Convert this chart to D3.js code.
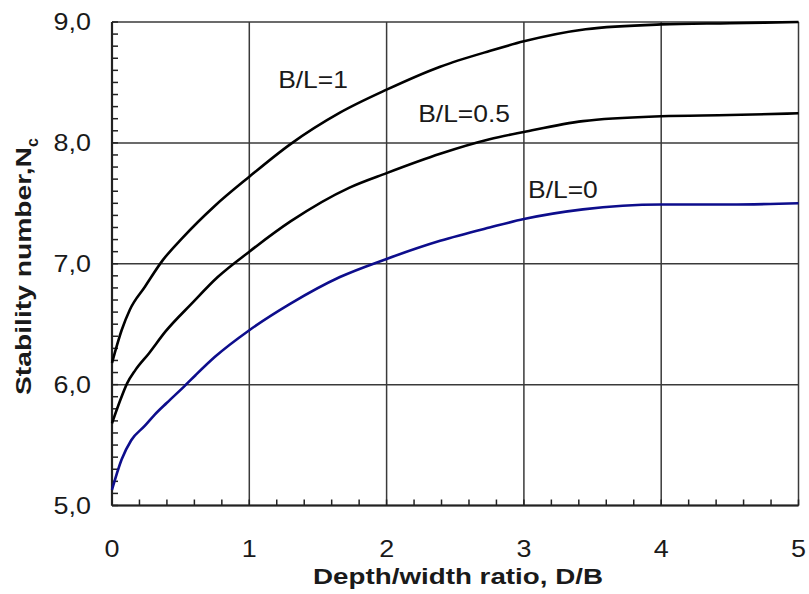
<!DOCTYPE html>
<html>
<head>
<meta charset="utf-8">
<script src="https://cdn.jsdelivr.net/npm/d3@7"></script>
<style>
  html, body { margin: 0; padding: 0; background: #fff; }
  svg { display: block; font-family: "Liberation Sans", Arial, sans-serif; }
</style>
</head>
<body>
<svg id="chart" width="809" height="594"></svg>
<script>
// ---- data ----
const xTickValues = [0, 1, 2, 3, 4, 5];
const yTickValues = [5, 6, 7, 8, 9];
const yTickLabels = ["5,0", "6,0", "7,0", "8,0", "9,0"];

const s1Name = "B/L=1";
const s1X = [0, 0.07, 0.13, 0.24, 0.37, 0.51, 0.75, 1.0, 1.3, 1.66, 2.0, 2.39, 2.75, 3.0, 3.45, 4.0, 4.5, 5.0];
const s1Y = [6.18, 6.45, 6.62, 6.81, 7.03, 7.21, 7.48, 7.72, 7.99, 8.25, 8.44, 8.63, 8.76, 8.84, 8.94, 8.98, 8.99, 9.0];

const s2Name = "B/L=0.5";
const s2X = [0, 0.06, 0.11, 0.17, 0.27, 0.39, 0.58, 0.77, 1.0, 1.3, 1.73, 2.0, 2.39, 2.75, 3.0, 3.43, 4.0, 4.5, 5.0];
const s2Y = [5.68, 5.87, 6.01, 6.12, 6.26, 6.44, 6.67, 6.89, 7.10, 7.35, 7.63, 7.75, 7.91, 8.03, 8.09, 8.18, 8.22, 8.23, 8.245];

const s3Name = "B/L=0";
const s3X = [0, 0.07, 0.14, 0.24, 0.31, 0.40, 0.53, 0.61, 0.75, 1.0, 1.3, 1.66, 2.0, 2.39, 2.75, 3.0, 3.43, 4.0, 4.5, 5.0];
const s3Y = [5.13, 5.38, 5.54, 5.66, 5.75, 5.85, 5.99, 6.08, 6.23, 6.45, 6.67, 6.89, 7.04, 7.19, 7.30, 7.37, 7.45, 7.49, 7.49, 7.50];

const xTitle = "Depth/width ratio, D/B";
const yTitleMain = "Stability number,N";
const yTitleSub = "c";

// ---- layout ----
const svg = d3.select("#chart");
const margin = { left: 112, top: 22, right: 10.5, bottom: 88.5 };
const W = 809, H = 594;
const x = d3.scaleLinear().domain([0, 5]).range([margin.left, W - margin.right]);
const y = d3.scaleLinear().domain([5, 9]).range([H - margin.bottom, margin.top]);

const series = [
  { name: s1Name, xs: s1X, ys: s1Y, color: "#000000", lx: 1.21, ly: 8.45 },
  { name: s2Name, xs: s2X, ys: s2Y, color: "#000000", lx: 2.23, ly: 8.17 },
  { name: s3Name, xs: s3X, ys: s3Y, color: "#0d0d8c", lx: 3.03, ly: 7.54 }
];

const TXT = "#1a1a1a";

// gridlines
const grid = svg.append("g");
grid.selectAll("line.gx").data(xTickValues).join("line")
  .attr("x1", d => x(d)).attr("x2", d => x(d))
  .attr("y1", y(5)).attr("y2", y(9))
  .attr("stroke", "#3a3a3a").attr("stroke-width", 1.5);
grid.selectAll("line.gy").data(yTickValues).join("line")
  .attr("x1", x(0)).attr("x2", x(5))
  .attr("y1", d => y(d)).attr("y2", d => y(d))
  .attr("stroke", "#3a3a3a").attr("stroke-width", 1.5);

// minor ticks (inside)
const xMinor = d3.range(0, 5.0001, 0.2);
const yMinor = d3.range(5, 9.0001, 0.1);
const minor = svg.append("g").attr("stroke", "#222").attr("stroke-width", 1.5);
minor.selectAll("line.mx").data(xMinor).join("line")
  .attr("x1", d => x(d)).attr("x2", d => x(d))
  .attr("y1", y(5)).attr("y2", y(5) - 6);
minor.selectAll("line.my").data(yMinor).join("line")
  .attr("x1", x(0)).attr("x2", x(0) + 6)
  .attr("y1", d => y(d)).attr("y2", d => y(d));

// main axis lines
svg.append("line").attr("x1", x(0)).attr("x2", x(5)).attr("y1", y(5)).attr("y2", y(5))
  .attr("stroke", "#222").attr("stroke-width", 2.2);
svg.append("line").attr("x1", x(0)).attr("x2", x(0)).attr("y1", y(5)).attr("y2", y(9))
  .attr("stroke", "#222").attr("stroke-width", 2.2);

// curves
const line = d3.line().x(d => x(d[0])).y(d => y(d[1])).curve(d3.curveMonotoneX);
svg.selectAll("path.curve").data(series).join("path")
  .attr("class", "curve")
  .attr("d", s => line(s.xs.map((v, i) => [v, s.ys[i]])))
  .attr("fill", "none").attr("stroke", s => s.color).attr("stroke-width", 2.6)
  .attr("stroke-linejoin", "round");

// series labels (text is horizontally stretched as in the reference)
svg.selectAll("g.lab").data(series).join("g")
  .attr("transform", s => `translate(${x(s.lx)},${y(s.ly)}) scale(1.15,1)`)
  .append("text").attr("font-size", 23).attr("fill", TXT)
  .text(s => s.name);

// tick labels
svg.selectAll("g.xt").data(xTickValues).join("g")
  .attr("transform", d => `translate(${x(d)},${y(5) + 51}) scale(1.17,1)`)
  .append("text").attr("text-anchor", "middle").attr("font-size", 23).attr("fill", TXT)
  .text(d => d);
svg.selectAll("g.yt").data(yTickValues).join("g")
  .attr("transform", d => `translate(${x(0) - 21},${y(d) + 8}) scale(1.17,1)`)
  .append("text").attr("text-anchor", "end").attr("font-size", 23).attr("fill", TXT)
  .text((d, i) => yTickLabels[i]);

// axis titles
svg.append("text").attr("x", 458).attr("y", H - 10)
  .attr("text-anchor", "middle").attr("font-size", 22).attr("font-weight", "bold")
  .attr("textLength", 290).attr("lengthAdjust", "spacingAndGlyphs")
  .attr("fill", TXT).text(xTitle);

const yt = svg.append("text")
  .attr("transform", `translate(31,${395}) rotate(-90)`)
  .attr("text-anchor", "start").attr("font-size", 22).attr("font-weight", "bold")
  .attr("fill", TXT);
yt.append("tspan").attr("textLength", 248).attr("lengthAdjust", "spacingAndGlyphs").text(yTitleMain);
yt.append("tspan").attr("font-size", 16).attr("dy", 7).text(yTitleSub);
</script>
</body>
</html>
